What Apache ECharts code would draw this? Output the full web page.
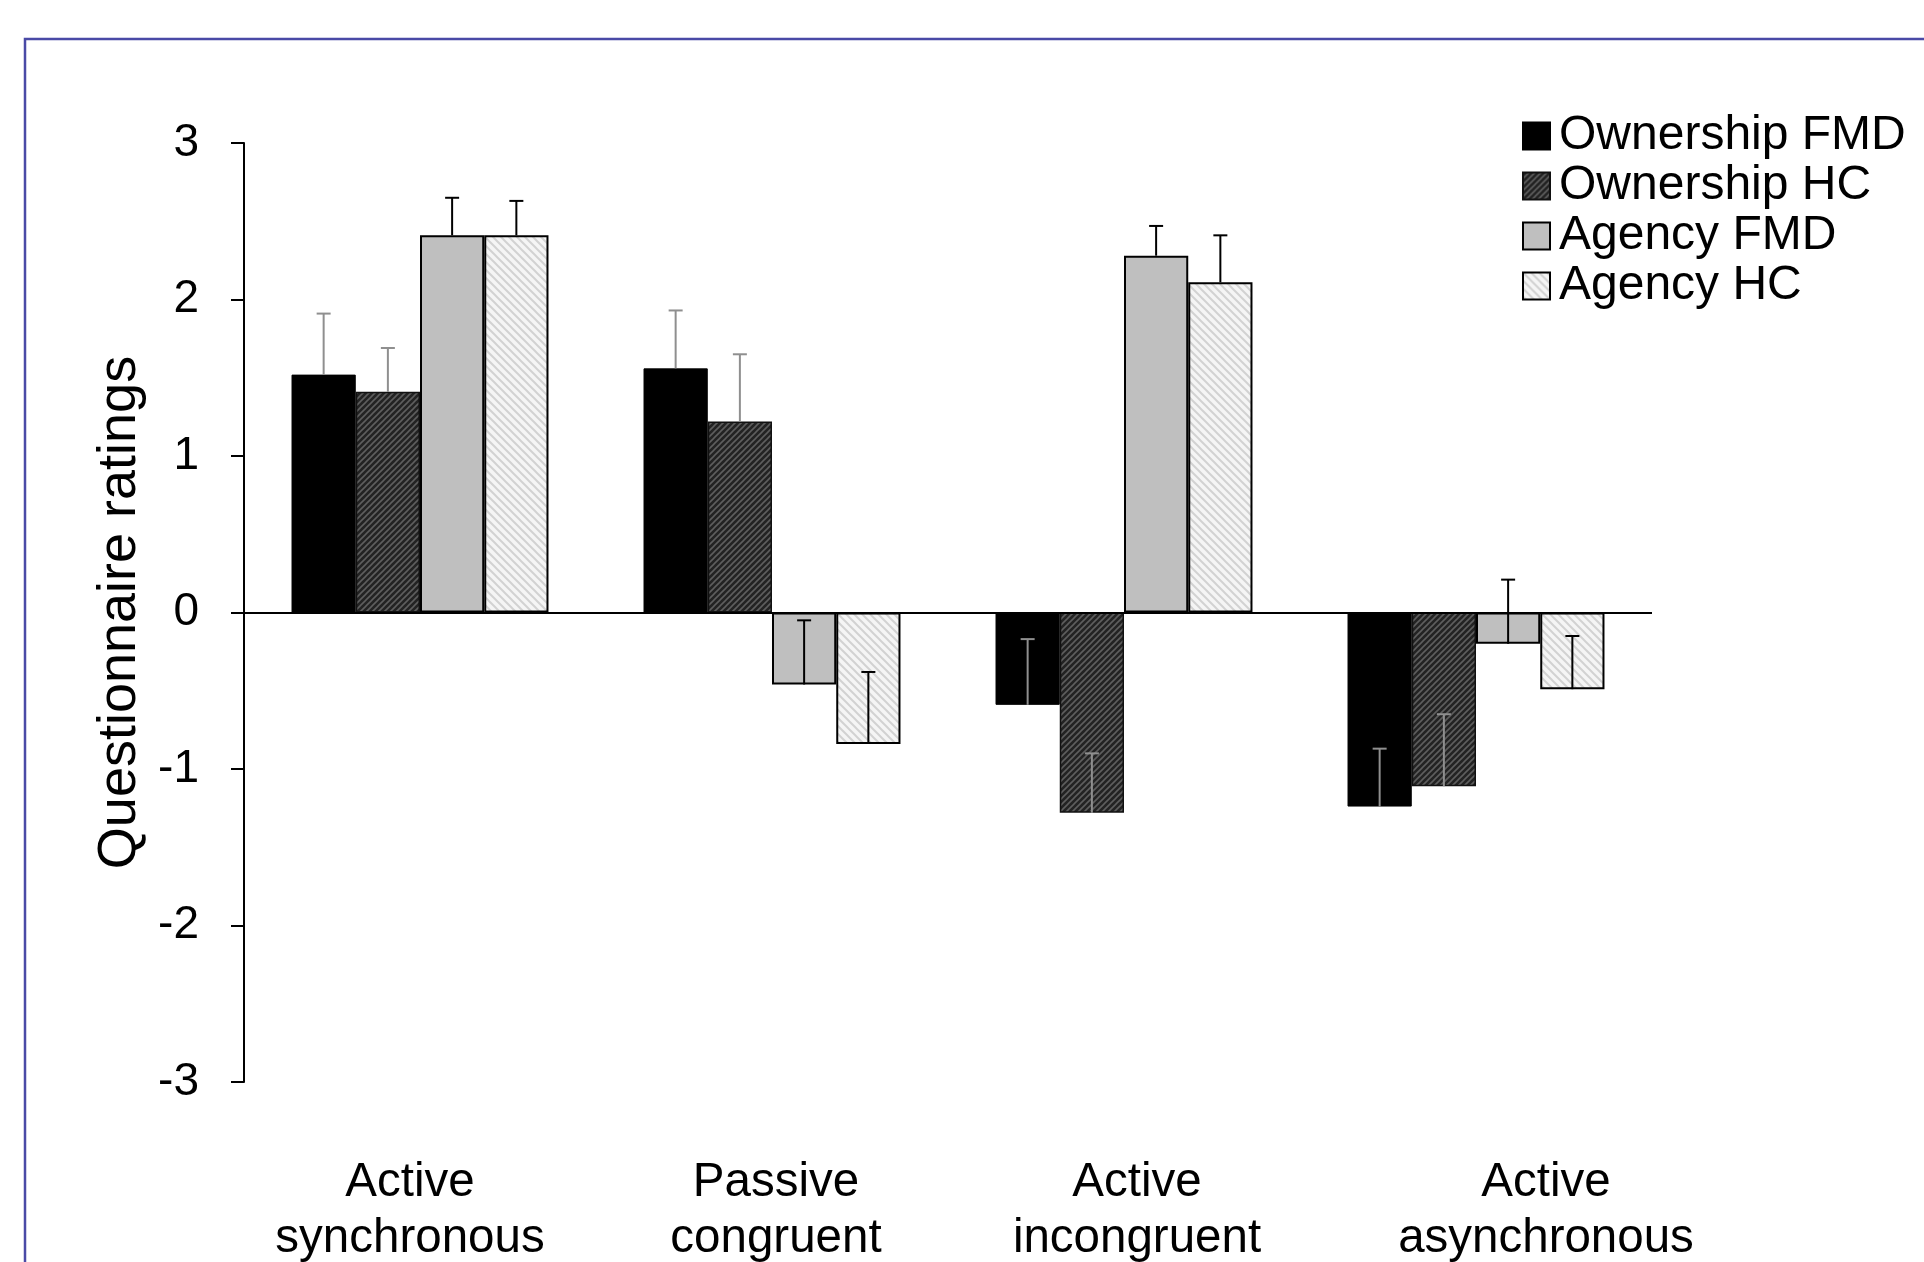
<!DOCTYPE html>
<html>
<head>
<meta charset="utf-8">
<title>Questionnaire ratings</title>
<script src="https://cdn.jsdelivr.net/npm/echarts@6/dist/echarts.min.js"></script>
<style>
  html, body { margin: 0; padding: 0; background: #ffffff; }
  #chart { width: 1924px; height: 1262px; }
</style>
</head>
<body>
<div id="chart"></div>
<script>
// Conditions on the category axis
const categories = ['Active\nsynchronous', 'Passive\ncongruent', 'Active\nincongruent', 'Active\nasynchronous'];
const seriesNames = ['Ownership FMD', 'Ownership HC', 'Agency FMD', 'Agency HC'];

// Mean ratings per condition
const ownershipFMD = [1.52, 1.56, -0.59, -1.24];
const ownershipHC  = [1.41, 1.22, -1.28, -1.11];
const agencyFMD    = [2.41, -0.46, 2.28, -0.20];
const agencyHC     = [2.41, -0.84, 2.11, -0.49];

// Error bar lengths (drawn in the positive direction)
const ownershipFMDErr = [0.39, 0.37, 0.42, 0.37];
const ownershipHCErr  = [0.28, 0.43, 0.38, 0.46];
const agencyFMDErr    = [0.24, 0.41, 0.19, 0.41];
const agencyHCErr     = [0.22, 0.46, 0.30, 0.34];

// Y axis ticks
const yTicks = [-3, -2, -1, 0, 1, 2, 3];

const FONT = "'Liberation Sans', Arial, Helvetica, sans-serif";
const CATEGORY_GAP = 0.27;

// Hatch fills
function hatch(size, bg, fg, lw, forward) {
  const c = document.createElement('canvas');
  c.width = size; c.height = size;
  const g = c.getContext('2d');
  g.fillStyle = bg; g.fillRect(0, 0, size, size);
  g.strokeStyle = fg; g.lineWidth = lw;
  g.beginPath();
  if (forward) {
    g.moveTo(0, size); g.lineTo(size, 0);
    g.moveTo(-1, 1); g.lineTo(1, -1);
    g.moveTo(size - 1, size + 1); g.lineTo(size + 1, size - 1);
  } else {
    g.moveTo(0, 0); g.lineTo(size, size);
    g.moveTo(size - 1, -1); g.lineTo(size + 1, 1);
    g.moveTo(-1, size - 1); g.lineTo(1, size + 1);
  }
  g.stroke();
  return { image: c, repeat: 'repeat' };
}

const darkHatch = hatch(6, '#232323', '#5e5e5e', 1.6, true);
const lightHatch = hatch(8, '#f5f5f5', '#d2d2d2', 2, false);

function errorSeries(idx, values, errs, color) {
  return {
    type: 'custom',
    z: 5,
    silent: true,
    encode: { x: 0, y: 1 },
    data: categories.map((c, i) => [i, values[i], errs[i]]),
    renderItem: function (params, api) {
      const x = api.value(0), v = api.value(1), e = api.value(2);
      const base = api.coord([x, v]);
      const tip = api.coord([x, v + e]);
      const band = api.size([1, 0])[0];
      const bw = band * (1 - CATEGORY_GAP) / 4;
      const cx = base[0] + (idx - 1.5) * bw;
      const half = 7;
      return {
        type: 'group',
        children: [
          { type: 'line', shape: { x1: cx, y1: base[1], x2: cx, y2: tip[1] },
            style: { stroke: color, lineWidth: 2 } },
          { type: 'line', shape: { x1: cx - half, y1: tip[1], x2: cx + half, y2: tip[1] },
            style: { stroke: color, lineWidth: 2 } }
        ]
      };
    }
  };
}

// Label offsets for the category names
const labelShift = [-10, 4, 13, 70];

const chart = echarts.init(document.getElementById('chart'), null, { renderer: 'canvas' });

const option = {
  backgroundColor: '#ffffff',
  animation: false,
  textStyle: { fontFamily: FONT },
  graphic: [{
    type: 'rect',
    silent: true,
    z: -10,
    shape: { x: 25, y: 39, width: 2100, height: 1400 },
    style: { fill: 'none', stroke: '#4a4aa6', lineWidth: 2.5 }
  }],
  grid: { left: 244, right: 272, top: 143, bottom: 180, containLabel: false, outerBoundsMode: 'none' },
  legend: {
    orient: 'vertical',
    left: 1522,
    top: 112,
    padding: 0,
    itemWidth: 27,
    itemHeight: 27,
    itemGap: 2,
    icon: 'rect',
    data: seriesNames,
    textStyle: { fontFamily: FONT, fontSize: 48, lineHeight: 46, color: '#000', padding: [0, 0, 0, 4] }
  },
  xAxis: {
    type: 'category',
    data: categories,
    axisLine: { show: false, onZero: false },
    axisTick: { show: false },
    splitLine: { show: false },
    axisLabel: {
      margin: 73,
      interval: 0,
      color: '#000',
      fontFamily: FONT,
      fontSize: 47.5,
      lineHeight: 56,
      formatter: function (value, index) {
        return value.split('\n').map(s => '{c' + index + '|' + s + '}').join('\n');
      },
      rich: labelShift.reduce((acc, s, i) => {
        acc['c' + i] = {
          fontFamily: FONT, fontSize: 47.5, lineHeight: 56, color: '#000',
          padding: s >= 0 ? [0, 0, 0, 2 * s] : [0, -2 * s, 0, 0]
        };
        return acc;
      }, {})
    }
  },
  yAxis: {
    type: 'value',
    min: yTicks[0],
    max: yTicks[yTicks.length - 1],
    interval: 1,
    name: 'Questionnaire ratings',
    nameLocation: 'middle',
    nameGap: 87,
    nameRotate: 90,
    nameTextStyle: { fontFamily: FONT, fontSize: 54, color: '#000', lineHeight: 54 },
    axisLine: { show: true, lineStyle: { color: '#000', width: 2 } },
    axisTick: { show: true, inside: false, length: 13, lineStyle: { color: '#000', width: 2 } },
    splitLine: { show: false },
    axisLabel: { margin: 45, color: '#000', fontFamily: FONT, fontSize: 46 }
  },
  series: [
    {
      name: seriesNames[0], type: 'bar', data: ownershipFMD,
      barGap: '0%', barCategoryGap: (CATEGORY_GAP * 100) + '%',
      itemStyle: { color: '#000000', borderColor: '#000000', borderWidth: 1 },
      markLine: {
        silent: true, symbol: 'none', z: 4,
        label: { show: false },
        lineStyle: { color: '#000', width: 2, type: 'solid' },
        data: [{ yAxis: 0 }]
      }
    },
    {
      name: seriesNames[1], type: 'bar', data: ownershipHC,
      itemStyle: { color: darkHatch, borderColor: '#111111', borderWidth: 1.5 }
    },
    {
      name: seriesNames[2], type: 'bar', data: agencyFMD,
      itemStyle: { color: '#bfbfbf', borderColor: '#000000', borderWidth: 2 }
    },
    {
      name: seriesNames[3], type: 'bar', data: agencyHC,
      itemStyle: { color: lightHatch, borderColor: '#000000', borderWidth: 2 }
    },
    errorSeries(0, ownershipFMD, ownershipFMDErr, '#8f8f8f'),
    errorSeries(1, ownershipHC, ownershipHCErr, '#8f8f8f'),
    errorSeries(2, agencyFMD, agencyFMDErr, '#000000'),
    errorSeries(3, agencyHC, agencyHCErr, '#000000')
  ]
};

chart.setOption(option);
</script>
</body>
</html>
